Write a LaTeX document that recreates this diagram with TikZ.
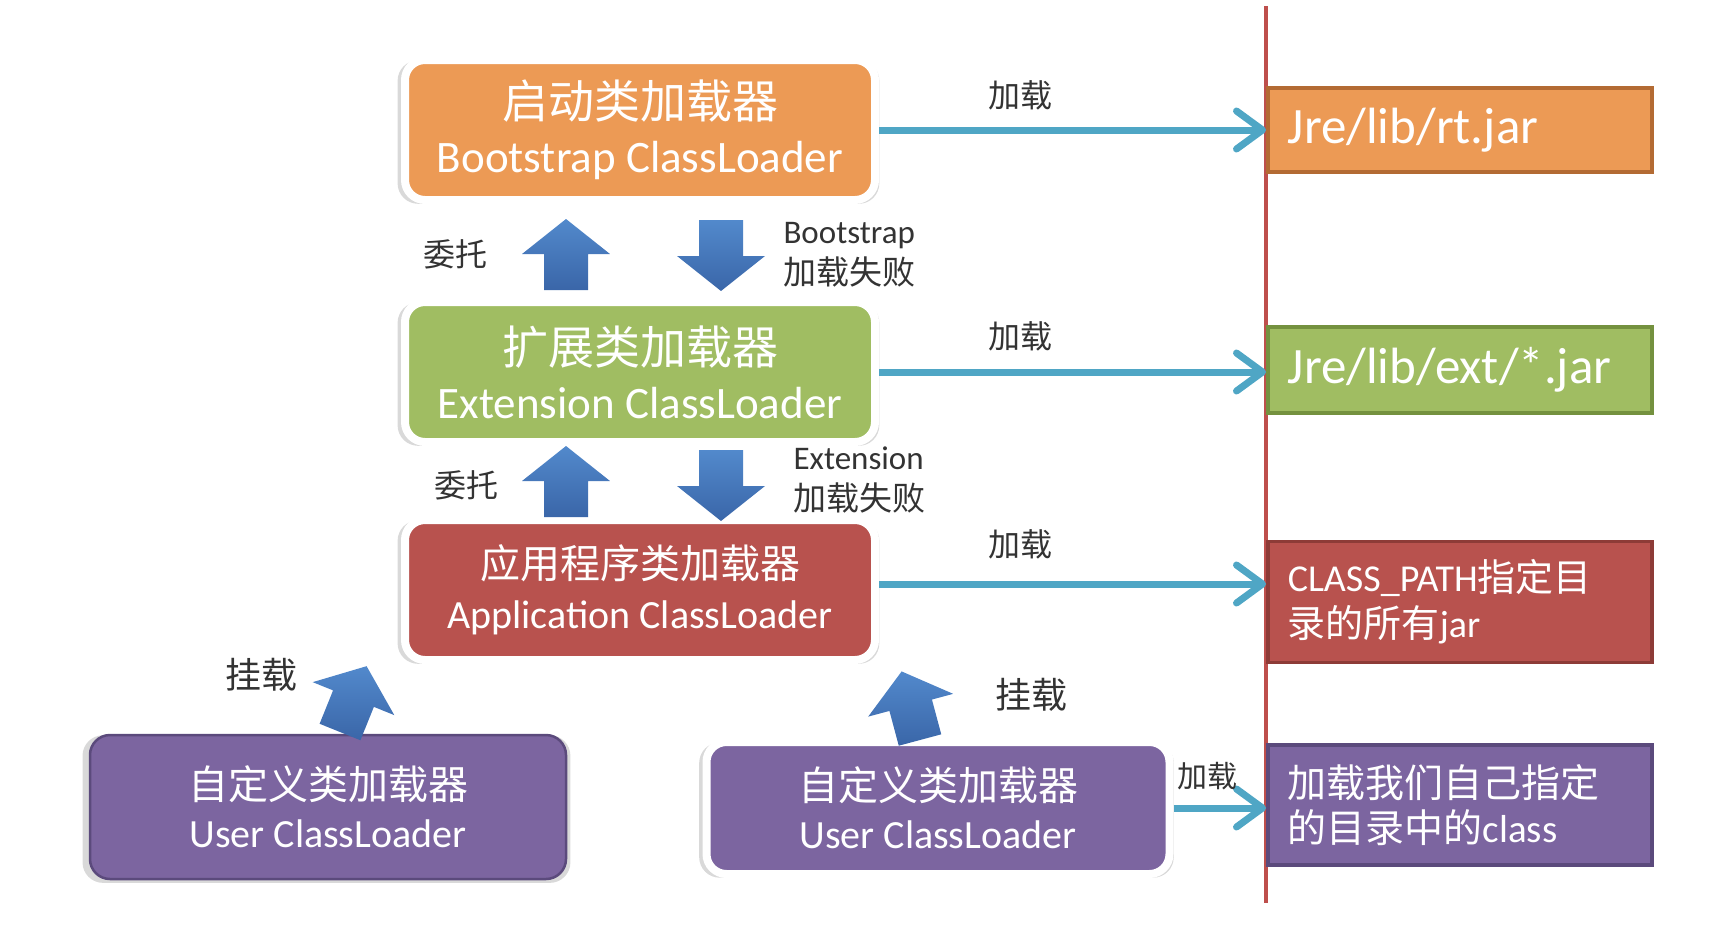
\documentclass[tikz,border=0pt]{standalone}
\usepackage{fontspec}
\setmainfont{Carlito}
\newfontfamily\cjk{Noto Sans CJK SC}
\usetikzlibrary{calc, positioning, arrows.meta, shadows}

\definecolor{bootfill}{HTML}{EC9A55}
\definecolor{bootline}{HTML}{B36B33}
\definecolor{extfill}{HTML}{A0BD62}
\definecolor{extline}{HTML}{74913F}
\definecolor{appfill}{HTML}{B8524E}
\definecolor{appline}{HTML}{8D3B37}
\definecolor{usrfill}{HTML}{7C65A0}
\definecolor{usrline}{HTML}{5B4A7C}
\definecolor{loadblue}{HTML}{4FA6C5}
\definecolor{arrtop}{HTML}{5289CC}
\definecolor{arrbot}{HTML}{3A66A8}
\definecolor{labgray}{HTML}{333333}
\definecolor{splitred}{HTML}{BE4F4C}

\tikzset{
 loader/.style={rounded corners=20pt, draw=white, line width=8pt, text=white, align=center,
   minimum width=470pt, minimum height=140pt, inner sep=0pt,
   drop shadow={opacity=.3, shadow scale=1.025, shadow xshift=-1.5pt, shadow yshift=-2pt}},
 target/.style={draw, line width=3.5pt, text=white, align=left, anchor=west,
   minimum width=384pt, text width=344pt, inner xsep=20pt},
 loadarrow/.style={draw=loadblue, line width=7pt,
   -{Straight Barb[length=26pt, width=38pt, line width=7pt, round]}},
 lab/.style={text=labgray, font=\cjk\fontsize{32}{40}\selectfont},
 blkarrow/.pic={\shade[top color=arrtop, bottom color=arrbot]
   (-22,0) -- (-22,-36) -- (-44,-36) -- (0,-71) -- (44,-36) -- (22,-36) -- (22,0) -- cycle;}
}

\begin{document}
\begin{tikzpicture}[x=1pt, y=-1pt]
 \useasboundingbox (0,0) rectangle (1720,924);

 % 左侧的类加载器
 \node[loader, fill=bootfill, font=\fontsize{45}{54}\selectfont] (boot) at (640,130)
  {{\cjk\fontsize{46}{54}\selectfont 启动类加载器}\\Bootstrap ClassLoader};
 \node[loader, fill=extfill, font=\fontsize{45}{54}\selectfont] (ext) at (640,372)
  {{\cjk\fontsize{46}{54}\selectfont 扩展类加载器}\\Extension ClassLoader};
 \node[loader, fill=appfill, font=\fontsize{40}{50}\selectfont] (app) at (640,590)
  {{\cjk\fontsize{40}{50}\selectfont 应用程序类加载器}\\Application ClassLoader};
 \node[loader, fill=usrfill, draw=usrline, line width=2.5pt, minimum width=476pt, minimum height=144pt,
  font=\fontsize{40}{48}\selectfont] (usr1) at (328,807)
  {{\cjk\fontsize{40}{48}\selectfont 自定义类加载器}\\User ClassLoader};
 \node[loader, fill=usrfill, minimum width=463pt, minimum height=132pt,
  font=\fontsize{40}{48}\selectfont] (usr2) at (938,808)
  {{\cjk\fontsize{40}{48}\selectfont 自定义类加载器}\\User ClassLoader};

 % 分界线
 \coordinate (ltop) at (1266,6);
 \coordinate (lbot) at (1266,903);
 \draw[splitred, line width=4pt] (ltop) -- (lbot);

 % 右侧的加载目录
 \node[target, draw=bootline, fill=bootfill, minimum height=84pt, font=\fontsize{51}{60}\selectfont]
  (rt) at (1266,130) {Jre/lib/rt.jar};
 \node[target, draw=extline, fill=extfill, minimum height=86pt, font=\fontsize{51}{60}\selectfont]
  (extdir) at (1266,370) {Jre/lib/ext/*.jar};
 \node[target, draw=appline, fill=appfill, minimum height=121pt, font=\fontsize{38}{46}\selectfont]
  (cpath) at (1266,602) {CLASS\_PATH{\cjk 指定目}\\{\cjk 录的所有}jar};
 \node[target, draw=usrline, fill=usrfill, minimum height=120pt, font=\cjk\fontsize{39}{45}\selectfont]
  (own) at (1266,805) {加载我们自己指定\\的目录中的{\rmfamily class}};

 % 加载
 \draw[loadarrow] (boot.east) -- (boot.east -| rt.west);
 \draw[loadarrow] (ext.east) -- (ext.east -| extdir.west);
 \draw[loadarrow] ([yshift=6pt]app.east) -- ([yshift=6pt]app.east -| cpath.west);
 \draw[loadarrow] (usr2.east) -- (usr2.east -| own.west);
 \node[lab] (l1) at (1020,95) {加载};
 \node[lab] (l2) at (1020,336) {加载};
 \node[lab] (l3) at (1020,544) {加载};
 \node[lab, font=\cjk\fontsize{30}{36}\selectfont] (l4) at (1207,776) {加载};

 % 委托 / 加载失败
 \pic at (566,290) {blkarrow};
 \pic[rotate=180] at (721,220) {blkarrow};
 \pic at (566,517) {blkarrow};
 \pic[rotate=180] at (721,450) {blkarrow};
 \node[lab] (d1) at (455,254) {委托};
 \node[lab] (d2) at (466,485) {委托};
 \node[anchor=west, align=left, text=labgray, font=\fontsize{33}{41}\selectfont] (f1) at (780,255)
  {Bootstrap\\{\cjk 加载失败}};
 \node[anchor=west, align=left, text=labgray, font=\fontsize{33}{41}\selectfont] (f2) at (790,480)
  {Extension\\{\cjk 加载失败}};

 % 挂载
 \pic[rotate=-22] at (340,732) {blkarrow};
 \pic[rotate=15] at (920,740) {blkarrow};
 \node[lab, font=\cjk\fontsize{36}{40}\selectfont] (h1) at (261,675) {挂载};
 \node[lab, font=\cjk\fontsize{36}{40}\selectfont] (h2) at (1031,695) {挂载};
\end{tikzpicture}
\end{document}
